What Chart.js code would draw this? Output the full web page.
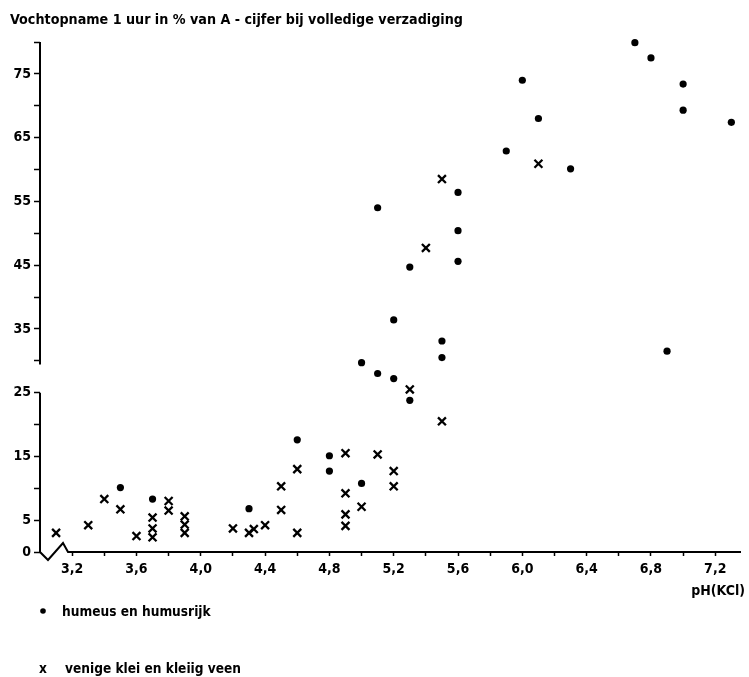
<!DOCTYPE html>
<html>
<head>
<meta charset="utf-8">
<title>Vochtopname en pH(KCl)</title>
<script src="https://cdn.jsdelivr.net/npm/chart.js@4.4.1/dist/chart.umd.min.js"></script>
<style>
  html, body { margin: 0; padding: 0; background: #fff; }
  #wrap { position: relative; width: 749px; height: 677px; }
</style>
</head>
<body>
<div id="wrap"><canvas id="myChart"></canvas></div>
<script>
const titel = "Vochtopname 1 uur in % van A - cijfer bij volledige verzadiging";
const asTitelX = "pH(KCl)";
const reeksNamen = ["humeus en humusrijk", "venige klei en kleiig veen"];

// humeus en humusrijk (stippen)
const phHumeus = [3.5, 3.7, 4.3, 4.6, 4.8, 4.8, 5.0, 5.0, 5.1, 5.2, 5.3, 5.1, 5.2, 5.3, 5.5, 5.5,
  5.6, 5.6, 5.6, 5.9, 6.0, 6.1, 6.3, 6.7, 6.8, 6.9, 7.0, 7.0, 7.3];
const vochtHumeus = [10.1, 8.3, 6.8, 17.6, 15.1, 12.7, 10.75, 29.7, 28.0, 27.2, 23.8, 54.0, 36.4, 44.7, 33.1, 30.5,
  56.4, 50.4, 45.6, 62.9, 74.0, 68.0, 60.1, 79.9, 77.5, 31.5, 73.4, 69.3, 67.4];

// venige klei en kleiig veen (kruisjes)
const phVenig = [3.1, 3.3, 3.4, 3.5, 3.6, 3.7, 3.7, 3.7, 3.8, 3.8, 3.9, 3.9, 3.9, 4.2, 4.3, 4.33, 4.4,
  4.5, 4.5, 4.6, 4.6, 4.9, 4.9, 4.9, 4.9, 5.0, 5.1, 5.2, 5.2, 5.3, 5.4, 5.5, 5.5, 6.1];
const vochtVenig = [3.0, 4.2, 8.3, 6.7, 2.5, 5.4, 3.7, 2.3, 8.0, 6.5, 5.6, 4.3, 3.0, 3.7, 3.0, 3.6, 4.2,
  10.3, 6.6, 13.0, 3.0, 15.5, 9.2, 5.9, 4.1, 7.1, 15.3, 12.7, 10.3, 25.5, 47.7, 58.5, 20.5, 60.9];

// assen
const xTicks = [3.2, 3.4, 3.6, 3.8, 4.0, 4.2, 4.4, 4.6, 4.8, 5.0, 5.2, 5.4, 5.6, 5.8, 6.0, 6.2, 6.4, 6.6, 6.8, 7.0, 7.2];
const xLabels = [3.2, 3.6, 4.0, 4.4, 4.8, 5.2, 5.6, 6.0, 6.4, 6.8, 7.2];
const yTicks = [0, 5, 10, 15, 20, 25, 30, 35, 40, 45, 50, 55, 60, 65, 70, 75, 80];
const yLabels = [0, 5, 15, 25, 35, 45, 55, 65, 75];

const FONT = "'Liberation Sans Narrow', 'DejaVu Sans Condensed', 'Liberation Sans', Arial, sans-serif";
const INK = "#000";

Chart.defaults.font.family = FONT;
Chart.defaults.color = INK;

const punten = (xs, ys) => xs.map((v, i) => ({ x: v, y: ys[i] }));

// assen met onderbreking, titel en legenda worden zelf getekend
const assenEnTekst = {
  id: "assenEnTekst",
  afterDraw(chart) {
    const { ctx, chartArea: a, scales: { y } } = chart;
    ctx.save();
    ctx.strokeStyle = INK;
    ctx.fillStyle = INK;
    ctx.lineWidth = 2;
    ctx.lineJoin = "miter";

    ctx.beginPath();
    ctx.moveTo(a.left, y.getPixelForValue(80));
    ctx.lineTo(a.left, y.getPixelForValue(29.4));
    ctx.moveTo(a.left, y.getPixelForValue(25));
    ctx.lineTo(a.left, a.bottom);
    // zigzag in de x-as
    ctx.lineTo(a.left + 8, a.bottom + 8);
    ctx.lineTo(a.left + 23, a.bottom - 9);
    ctx.lineTo(a.left + 28, a.bottom);
    ctx.lineTo(a.right, a.bottom);
    ctx.stroke();

    ctx.font = "bold 14.2px " + FONT;
    ctx.textBaseline = "alphabetic";
    ctx.textAlign = "left";
    ctx.fillText(titel, 10, 24);

    ctx.font = "bold 14px " + FONT;
    ctx.textAlign = "right";
    ctx.fillText(asTitelX, 745, 595);

    // legenda
    ctx.font = "bold 13.6px " + FONT;
    ctx.textAlign = "left";
    ctx.beginPath();
    ctx.arc(43, 611, 2.8, 0, Math.PI * 2);
    ctx.fill();
    ctx.fillText(reeksNamen[0], 62, 616);
    ctx.textAlign = "center";
    ctx.fillText("x", 43, 673);
    ctx.textAlign = "left";
    ctx.fillText(reeksNamen[1], 65, 673);
    ctx.restore();
  }
};

new Chart(document.getElementById("myChart"), {
  type: "scatter",
  data: {
    datasets: [
      {
        label: reeksNamen[0],
        data: punten(phHumeus, vochtHumeus),
        pointStyle: "circle",
        pointRadius: 3.6,
        backgroundColor: INK,
        borderColor: INK,
        borderWidth: 0,
        clip: false,
      },
      {
        label: reeksNamen[1],
        data: punten(phVenig, vochtVenig),
        pointStyle: "crossRot",
        pointRadius: 5.6,
        borderColor: INK,
        borderWidth: 2.3,
        clip: false,
      },
    ],
  },
  options: {
    responsive: true,
    maintainAspectRatio: false,
    animation: false,
    layout: { padding: { top: 42, right: 8, bottom: 0, left: 0 } },
    plugins: {
      legend: { display: false },
      title: { display: false },
      tooltip: { enabled: false },
    },
    scales: {
      x: {
        type: "linear",
        min: 3.0,
        max: 7.36,
        afterFit: (s) => { s.height = 125; },
        afterBuildTicks: (s) => { s.ticks = xTicks.map((v) => ({ value: v })); },
        border: { display: false },
        grid: { drawOnChartArea: false, drawTicks: true, tickLength: 4, tickWidth: 1.5, color: INK },
        ticks: {
          autoSkip: false,
          maxRotation: 0,
          padding: 5,
          font: { size: 14, weight: "bold" },
          callback: (v) => (xLabels.some((l) => Math.abs(l - v) < 1e-6) ? v.toFixed(1).replace(".", ",") : ""),
        },
      },
      y: {
        type: "linear",
        min: 0,
        max: 80,
        afterFit: (s) => { s.width = 40; },
        afterBuildTicks: (s) => { s.ticks = yTicks.map((v) => ({ value: v })); },
        border: { display: false },
        grid: { drawOnChartArea: false, drawTicks: true, tickLength: 6, tickWidth: 1.5, color: INK },
        ticks: {
          autoSkip: false,
          padding: 3,
          font: { size: 14, weight: "bold" },
          callback: (v) => (yLabels.includes(v) ? String(v) : ""),
        },
      },
    },
  },
  plugins: [assenEnTekst],
});
</script>
</body>
</html>
